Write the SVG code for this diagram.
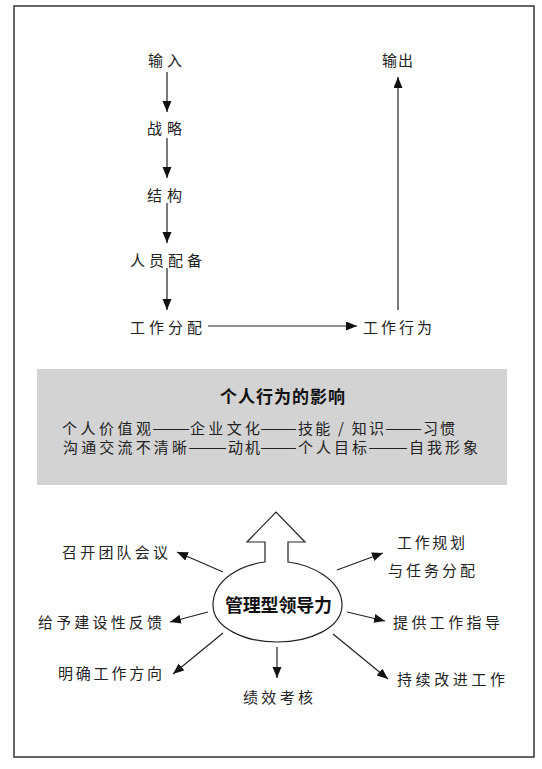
<svg xmlns="http://www.w3.org/2000/svg" width="542" height="769" viewBox="0 0 542 769">
<style>
.t{font-family:"Noto Sans CJK SC","Noto Sans",sans-serif;font-size:15px;fill:#222;}
.b{font-family:"Noto Sans CJK SC","Noto Sans",sans-serif;font-weight:bold;fill:#111;}
.c{stroke:#222;stroke-width:1.2;fill:none;marker-end:url(#ah);}
</style>
<defs>
<marker id="ah" markerUnits="userSpaceOnUse" markerWidth="12" markerHeight="10" refX="11" refY="4.5" orient="auto">
<path d="M0,0 L11,4.5 L0,9 z" fill="#111"/>
</marker>
</defs>
<rect x="0" y="0" width="542" height="769" fill="#fff"/>
<rect id="frame" x="14" y="6" width="520" height="751" fill="none" stroke="#333" stroke-width="1.5"/>
<g id="n-input"><text class="t" x="148" y="65.5" textLength="34" lengthAdjust="spacing">输入</text></g>
<g id="n-strategy"><text class="t" x="147" y="133.5" textLength="35" lengthAdjust="spacing">战略</text></g>
<g id="n-structure"><text class="t" x="147" y="200.5" textLength="35" lengthAdjust="spacing">结构</text></g>
<g id="n-staffing"><text class="t" x="130" y="265.5" textLength="72" lengthAdjust="spacing">人员配备</text></g>
<g id="n-assign"><text class="t" x="130" y="332.5" textLength="72" lengthAdjust="spacing">工作分配</text></g>
<g id="n-behavior"><text class="t" x="363" y="332.5" textLength="69" lengthAdjust="spacing">工作行为</text></g>
<g id="n-output"><text class="t" x="382" y="65.5" textLength="31" lengthAdjust="spacing">输出</text></g>
<g id="n-influence">
<rect x="37" y="369" width="470" height="116" fill="#d3d3d3"/>
<text class="b" font-size="17" x="220" y="403" textLength="125" lengthAdjust="spacing">个人行为的影响</text>
<text class="t" x="62" y="434" textLength="89" lengthAdjust="spacing">个人价值观</text>
<text class="t" x="152" y="434" textLength="38" lengthAdjust="spacingAndGlyphs">——</text>
<text class="t" x="190" y="434" textLength="70" lengthAdjust="spacing">企业文化</text>
<text class="t" x="260" y="434" textLength="37" lengthAdjust="spacingAndGlyphs">——</text>
<text class="t" x="298" y="434" textLength="86" lengthAdjust="spacing">技能 / 知识</text>
<text class="t" x="385" y="434" textLength="37" lengthAdjust="spacingAndGlyphs">——</text>
<text class="t" x="423" y="434" textLength="32" lengthAdjust="spacing">习惯</text>
<text class="t" x="63" y="453" textLength="124" lengthAdjust="spacing">沟通交流不清晰</text>
<text class="t" x="188" y="453" textLength="39" lengthAdjust="spacingAndGlyphs">——</text>
<text class="t" x="228" y="453" textLength="32" lengthAdjust="spacing">动机</text>
<text class="t" x="260" y="453" textLength="37" lengthAdjust="spacingAndGlyphs">——</text>
<text class="t" x="298" y="453" textLength="69" lengthAdjust="spacing">个人目标</text>
<text class="t" x="368" y="453" textLength="40" lengthAdjust="spacingAndGlyphs">——</text>
<text class="t" x="409" y="453" textLength="69" lengthAdjust="spacing">自我形象</text>
</g>
<g id="n-leader">
<path d="M265,562 C240,565 213,580 213,605 C213,628 245,642 277,642 C310,642 342,628 342,605 C342,580 312,565 288,562 L288,542 L305,542 L276,512 L247,542 L265,542 Z" fill="#fff" stroke="#222" stroke-width="1.2"/>
<text class="b" font-size="18" x="225" y="611.5" textLength="107" lengthAdjust="spacing">管理型领导力</text>
</g>
<g id="n-meeting"><text class="t" x="62" y="557.5" textLength="106" lengthAdjust="spacing">召开团队会议</text></g>
<g id="n-feedback"><text class="t" x="38" y="627.5" textLength="124" lengthAdjust="spacing">给予建设性反馈</text></g>
<g id="n-direction"><text class="t" x="58" y="678.5" textLength="104" lengthAdjust="spacing">明确工作方向</text></g>
<g id="n-appraisal"><text class="t" x="243" y="702.5" textLength="70" lengthAdjust="spacing">绩效考核</text></g>
<g id="n-planning"><text class="t" x="397" y="547.5" textLength="68" lengthAdjust="spacing">工作规划</text><text class="t" x="388" y="575.5" textLength="87" lengthAdjust="spacing">与任务分配</text></g>
<g id="n-guidance"><text class="t" x="393" y="627.5" textLength="107" lengthAdjust="spacing">提供工作指导</text></g>
<g id="n-improve"><text class="t" x="397" y="684.5" textLength="108" lengthAdjust="spacing">持续改进工作</text></g>
<g id="connectors">
<line class="c" x1="167" y1="72" x2="167" y2="112"/>
<line class="c" x1="167" y1="138" x2="167" y2="178"/>
<line class="c" x1="167" y1="203" x2="167" y2="243"/>
<line class="c" x1="167" y1="268" x2="167" y2="310"/>
<line class="c" x1="208" y1="326" x2="357" y2="326"/>
<line class="c" x1="398" y1="310" x2="398" y2="77"/>
<line class="c" x1="223" y1="572" x2="177" y2="552"/>
<line class="c" x1="208" y1="612" x2="170" y2="622"/>
<line class="c" x1="223" y1="633" x2="173" y2="674"/>
<line class="c" x1="277" y1="647" x2="277" y2="678"/>
<line class="c" x1="337" y1="570" x2="383" y2="553"/>
<line class="c" x1="347" y1="612" x2="385" y2="621"/>
<line class="c" x1="333" y1="634" x2="388" y2="679"/>
</g>
</svg>
